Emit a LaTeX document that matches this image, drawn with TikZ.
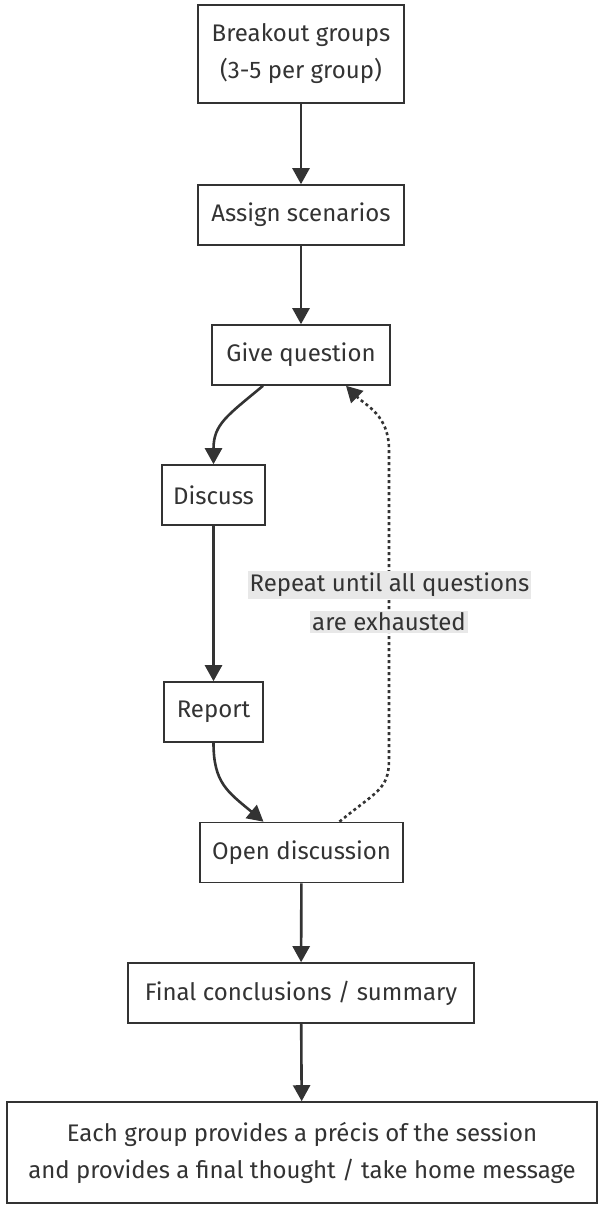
\documentclass[tikz,border=0pt]{standalone}
\usepackage{fontspec}
\setmainfont{Fira Sans}
\usetikzlibrary{arrows.meta}
\definecolor{ink}{HTML}{333333}
\definecolor{lblbg}{HTML}{E8E8E8}
\tikzset{
  box/.style={draw=ink, line width=1.6pt, fill=white, text=ink, font=\fontsize{24}{37}\selectfont, align=center, inner sep=0pt, minimum height=60pt},
  flow/.style={draw=ink, line width=2.6pt, -{Triangle[length=16pt,width=17pt]}},
  loopback/.style={draw=ink, line width=2.6pt, dash pattern=on 3pt off 3pt, -{Triangle[length=16pt,width=17pt]}},
  lbl/.style={fill=lblbg, text=ink, font=\fontsize{24}{37}\selectfont, inner sep=2pt}
}
\begin{document}
\begin{tikzpicture}[x=1pt,y=-1pt]
\useasboundingbox (0,0) rectangle (604,1208);
\node[box, minimum width=206pt, minimum height=98pt] (breakout) at (301,54) {Breakout groups\\(3-5 per group)};
\node[box, minimum width=206pt] (assign) at (301,215) {Assign scenarios};
\node[box, minimum width=178pt] (give) at (301,355) {Give question};
\node[box, minimum width=103pt] (discuss) at (213.5,495) {Discuss};
\node[box, minimum width=99pt] (report) at (213.5,712) {Report};
\node[box, minimum width=203pt] (open) at (301.5,852.5) {Open discussion};
\node[box, minimum width=346pt] (final) at (301,993) {Final conclusions / summary};
\node[box, minimum width=590pt, minimum height=101pt] (each) at (302,1152.5) {Each group provides a précis of the session\\and provides a final thought / take home message};

\draw[flow] (breakout) -- (assign);
\draw[flow] (assign) -- (give);
\draw[flow] ([xshift=-38pt]give.south) .. controls ++(-36,30) and ++(0,-40) .. (discuss.north);
\draw[flow] (discuss) -- (report);
\draw[flow] (report.south) .. controls ++(0,40) and ++(-36,-30) .. ([xshift=-38pt]open.north);
\draw[flow] (open) -- (final);
\draw[flow] (final) -- (each);
\coordinate (up1) at (389,760);
\coordinate (up2) at (389,450);
\draw[loopback] ([xshift=38pt]open.north) .. controls ++(36,-30) and ++(0,30) .. (up1) -- (up2) .. controls ++(0,-35) and ++(20,20) .. ([xshift=45pt]give.south);
\node[lbl] (repeat) at (389.5,585) {Repeat until all questions};
\node[lbl] (repeat2) at (389,622) {are exhausted};
\end{tikzpicture}
\end{document}
